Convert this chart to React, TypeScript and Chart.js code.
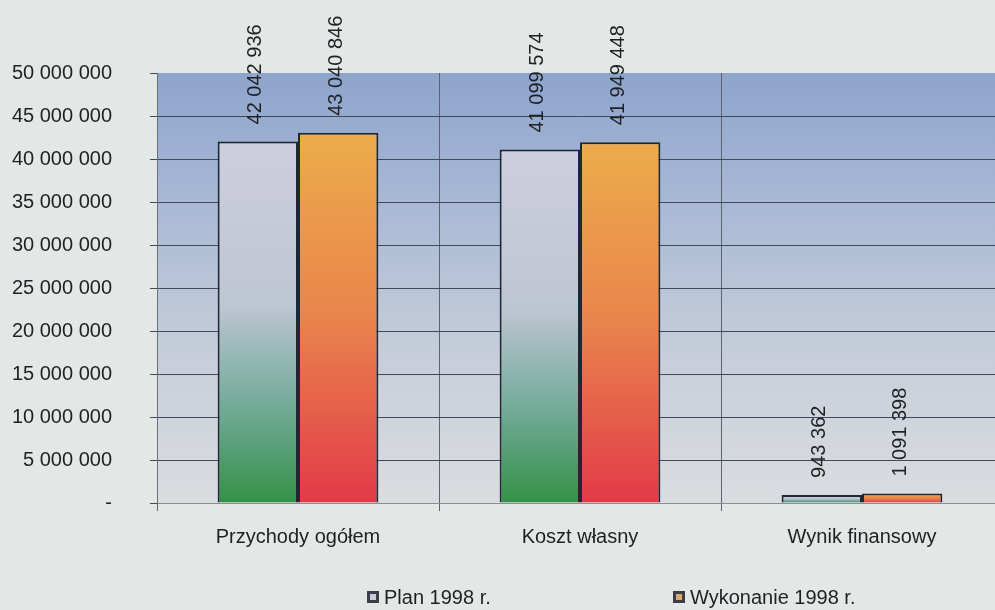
import React, { useEffect, useRef } from "react";
import { Chart, registerables } from "chart.js";

Chart.register(...registerables);

const categories = ["Przychody ogółem", "Koszt własny", "Wynik finansowy"];
const planValues = [42042936, 41099574, 943362];
const wykonanieValues = [43040846, 41949448, 1091398];
const seriesNames = ["Plan 1998 r.", "Wykonanie 1998 r."];
const yMax = 50000000;
const yStep = 5000000;

const FONT = "'Liberation Sans', Arial, sans-serif";
const TEXT = "#1d2124";

function fmt(v: number): string {
  if (v === 0) return "-";
  return Math.round(v).toString().replace(/\B(?=(\d{3})+(?!\d))/g, " ");
}

const planStops: [number, string][] = [
  [0, "rgb(206,206,222)"],
  [0.45, "rgb(190,198,210)"],
  [0.72, "rgb(118,172,156)"],
  [1, "rgb(52,144,72)"],
];
const wykStops: [number, string][] = [
  [0, "rgb(236,172,74)"],
  [0.5, "rgb(233,132,76)"],
  [1, "rgb(226,58,72)"],
];

function barGradient(stops: [number, string][]) {
  return (ctx: any) => {
    const chart = ctx.chart;
    const ys = chart.scales && chart.scales.y;
    if (!ys || ctx.raw == null) return stops[0][1];
    const top = ys.getPixelForValue(ctx.raw);
    const base = ys.getPixelForValue(0);
    if (!isFinite(top) || !isFinite(base) || base - top < 1) return stops[0][1];
    const g = chart.ctx.createLinearGradient(0, top, 0, base);
    stops.forEach(([o, c]) => g.addColorStop(o, c));
    return g;
  };
}

const plotBg = {
  id: "plotBg",
  beforeDraw(chart: any) {
    const { ctx, chartArea } = chart;
    if (!chartArea) return;
    const g = ctx.createLinearGradient(0, chartArea.top, 0, chartArea.bottom);
    g.addColorStop(0, "rgb(142,164,204)");
    g.addColorStop(0.35, "rgb(172,188,214)");
    g.addColorStop(0.7, "rgb(202,208,218)");
    g.addColorStop(1, "rgb(218,221,224)");
    ctx.save();
    ctx.fillStyle = g;
    ctx.fillRect(chartArea.left, chartArea.top, chartArea.right - chartArea.left, chartArea.bottom - chartArea.top);
    ctx.restore();
  },
};

const valueLabels = {
  id: "valueLabels",
  afterDatasetsDraw(chart: any) {
    const { ctx } = chart;
    ctx.save();
    ctx.font = `20px ${FONT}`;
    ctx.fillStyle = TEXT;
    ctx.textAlign = "left";
    ctx.textBaseline = "middle";
    chart.data.datasets.forEach((ds: any, di: number) => {
      const meta = chart.getDatasetMeta(di);
      meta.data.forEach((bar: any, i: number) => {
        ctx.save();
        ctx.translate(bar.x - 2, bar.y - 17);
        ctx.rotate(-Math.PI / 2);
        ctx.fillText(fmt(ds.data[i]), 0, 0);
        ctx.restore();
      });
    });
    ctx.restore();
  },
};

const legendIconX = [367, 673];
const customLegend = {
  id: "customLegend",
  afterDraw(chart: any) {
    const { ctx } = chart;
    ctx.save();
    ctx.font = `20px ${FONT}`;
    ctx.textAlign = "left";
    ctx.textBaseline = "middle";
    const y = 597;
    chart.data.datasets.forEach((ds: any, i: number) => {
      const x = legendIconX[i];
      ctx.fillStyle = "#3a3f46";
      ctx.fillRect(x, y - 6, 12, 12);
      ctx.fillStyle = i === 0 ? "#c9ccd6" : "#d8a870";
      ctx.fillRect(x + 3, y - 3, 6, 6);
      ctx.fillStyle = TEXT;
      ctx.fillText(ds.label, x + 17, y + 1);
    });
    ctx.restore();
  },
};

export default function App() {
  const ref = useRef<HTMLCanvasElement | null>(null);

  useEffect(() => {
    if (!ref.current) return;
    const chart = new Chart(ref.current, {
      type: "bar",
      data: {
        labels: categories,
        datasets: [
          {
            label: seriesNames[0],
            data: planValues,
            backgroundColor: barGradient(planStops) as any,
            borderColor: "#1f2733",
            borderWidth: 2,
            categoryPercentage: 0.57,
            barPercentage: 1,
          },
          {
            label: seriesNames[1],
            data: wykonanieValues,
            backgroundColor: barGradient(wykStops) as any,
            borderColor: "#1f2733",
            borderWidth: 2,
            categoryPercentage: 0.57,
            barPercentage: 1,
          },
        ],
      },
      options: {
        animation: false,
        responsive: true,
        maintainAspectRatio: false,
        layout: { padding: { top: 73, right: 9, bottom: 47, left: 0 } },
        plugins: {
          legend: { display: false },
          tooltip: { enabled: false },
        },
        scales: {
          x: {
            grid: {
              offset: true,
              color: "#5b6270",
              lineWidth: 1,
              tickLength: 8,
              drawTicks: true,
            },
            border: { color: "#8a8e94", width: 1 },
            ticks: {
              font: { family: FONT, size: 20 },
              color: TEXT,
              padding: 14,
              maxRotation: 0,
            },
            afterFit: (s: any) => {
              s.height = 60;
            },
          },
          y: {
            min: 0,
            max: yMax,
            ticks: {
              stepSize: yStep,
              font: { family: FONT, size: 20 },
              color: TEXT,
              padding: 38,
              callback: (v: any) => fmt(Number(v)),
            },
            grid: {
              color: (c: any) => (c.tick && c.tick.value === 0 ? "#9a9ea4" : c.tick && c.tick.value === yMax ? "rgba(0,0,0,0)" : "#3e4a5c"),
              lineWidth: 1,
              tickLength: 7,
              tickColor: "#3e4a5c",
            },
            border: { color: "#6b7078", width: 1 },
            afterFit: (s: any) => {
              s.width = 157;
            },
          },
        },
      },
      plugins: [plotBg, valueLabels, customLegend],
    });
    return () => chart.destroy();
  }, []);

  return (
    <div
      style={{
        position: "fixed",
        left: 0,
        top: 0,
        width: 1012,
        height: 610,
        background: "rgb(227,231,229)",
      }}
    >
      <canvas ref={ref} />
    </div>
  );
}
